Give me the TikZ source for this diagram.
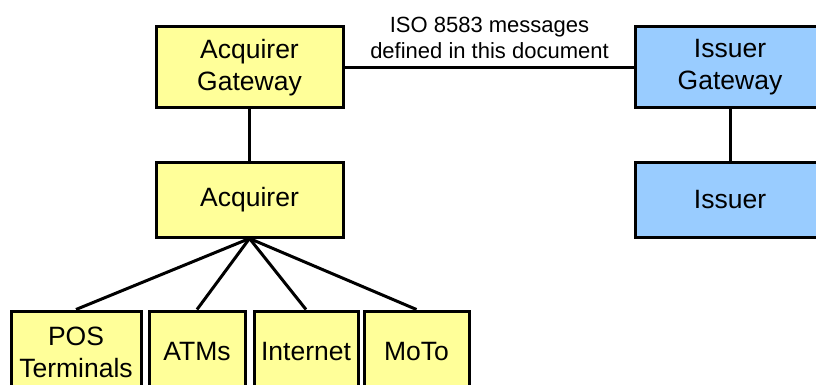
\documentclass[tikz,border=0pt]{standalone}
\usepackage{xcolor}
\usepackage{tikz}
\usepackage{fontspec}
\setmainfont{Liberation Sans}
\usetikzlibrary{positioning}

\definecolor{acqyellow}{RGB}{255,255,153}
\definecolor{issblue}{RGB}{153,204,255}

\begin{document}
\begin{tikzpicture}[x=1pt, y=-1pt,
    party/.style={draw, rectangle, line width=3pt, align=center, inner sep=0pt,
        font=\fontsize{26.5}{32}\selectfont},
    acqside/.style={party, fill=acqyellow},
    issside/.style={party, fill=issblue},
    link/.style={line width=3pt}]
    \useasboundingbox (0,0) rectangle (816,385);

    % Acquirer side
    \node[acqside, minimum width=187pt, minimum height=81pt] (acqgw) at (249.5,67.5) {Acquirer\\Gateway};
    \node[acqside, minimum width=187pt, minimum height=75pt] (acq) at (249.5,199.5) {Acquirer};

    % Issuer side
    \node[issside, minimum width=190pt, minimum height=81pt] (issgw) at (730,67.5) {Issuer\\Gateway};
    \node[issside, minimum width=190pt, minimum height=75pt] (iss) at (730,199.5) {Issuer};

    % Channels
    \node[acqside, minimum width=130pt, minimum height=82pt] (pos) at (76,352) {POS\\Terminals};
    \node[acqside, minimum width=96pt, minimum height=82pt] (atm) at (197,352) {ATMs};
    \node[acqside, minimum width=104pt, minimum height=82pt] (inet) at (306,352) {Internet};
    \node[acqside, minimum width=105pt, minimum height=82pt] (moto) at (416.5,352) {MoTo};

    % Links
    \draw[link] (acqgw) -- (issgw);
    \node[align=center, font=\fontsize{22}{26}\selectfont] (msg) at (489.5,37.5) {ISO 8583 messages\\defined in this document};
    \draw[link] (acqgw) -- (acq);
    \draw[link] (issgw) -- (iss);
    \foreach \ch in {pos, atm, inet, moto}
        \draw[link] (acq.south) -- (\ch.north);
\end{tikzpicture}
\end{document}
